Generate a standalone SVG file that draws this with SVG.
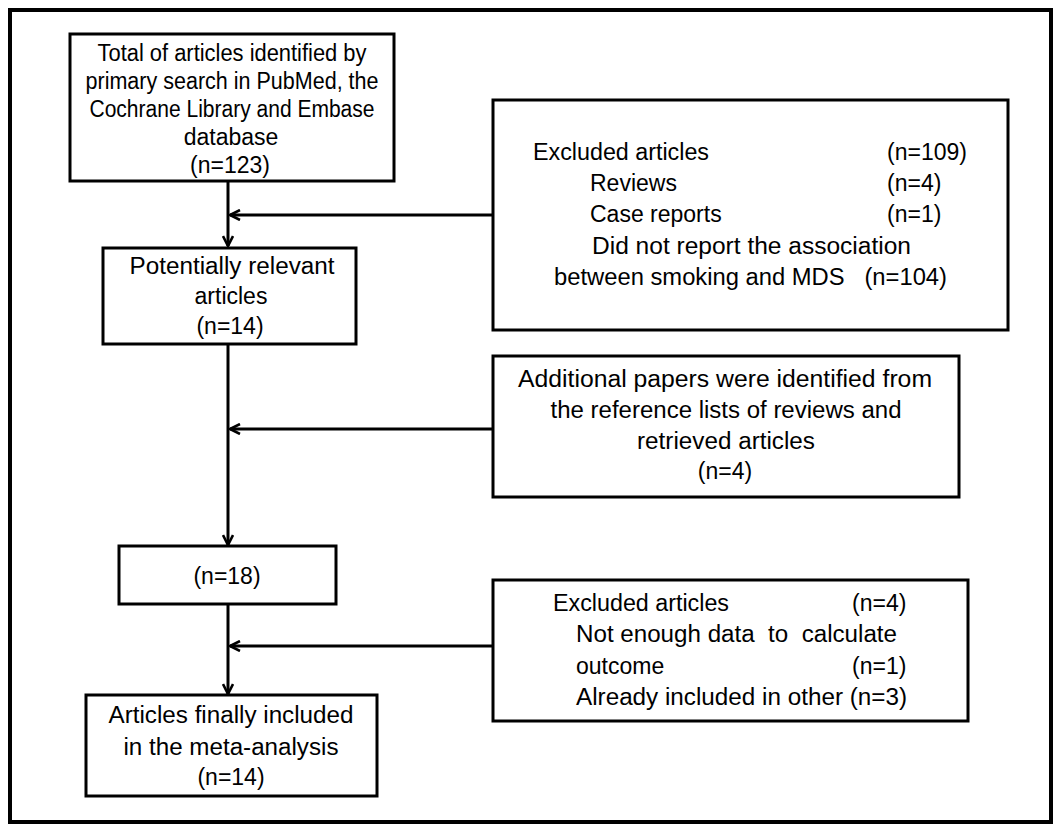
<svg xmlns="http://www.w3.org/2000/svg" width="1055" height="824" viewBox="0 0 1055 824">
<style>
.box{fill:#fff;stroke:#000;stroke-width:3}
.t{font-family:"Liberation Sans",Arial,sans-serif;font-size:23px;fill:#000}
.c{text-anchor:middle}
.ln{stroke:#000;stroke-width:3;fill:none}
</style>
<defs>
<marker id="ah" viewBox="0 0 12 12" refX="11" refY="6" markerWidth="12" markerHeight="12" markerUnits="userSpaceOnUse" orient="auto">
<path d="M1,1 L11,6 L1,11" fill="none" stroke="#000" stroke-width="2.6"/>
</marker>
</defs>
<rect x="10" y="10" width="1041" height="812" fill="#fff" stroke="#000" stroke-width="4"/>
<g id="connectors">
<line class="ln" x1="228" y1="182" x2="228" y2="246" marker-end="url(#ah)"/>
<line class="ln" x1="493" y1="215" x2="230" y2="215" marker-end="url(#ah)"/>
<line class="ln" x1="228" y1="344" x2="228" y2="545" marker-end="url(#ah)"/>
<line class="ln" x1="493" y1="429" x2="230" y2="429" marker-end="url(#ah)"/>
<line class="ln" x1="228" y1="605" x2="228" y2="694" marker-end="url(#ah)"/>
<line class="ln" x1="493" y1="646" x2="230" y2="646" marker-end="url(#ah)"/>
</g>
<g id="n1">
<rect class="box" x="70" y="34" width="324" height="147"/>
<text class="t c" x="232" y="61" textLength="269" lengthAdjust="spacingAndGlyphs">Total of articles identified by</text>
<text class="t c" x="232" y="89" textLength="293" lengthAdjust="spacingAndGlyphs">primary search in PubMed, the</text>
<text class="t c" x="232" y="117" textLength="285" lengthAdjust="spacingAndGlyphs">Cochrane Library  and Embase</text>
<text class="t c" x="231" y="145">database</text>
<text class="t c" x="230" y="173">(n=123)</text>
</g>
<g id="n2">
<rect class="box" x="493" y="100" width="515" height="230"/>
<text class="t" x="533" y="160" textLength="176" lengthAdjust="spacingAndGlyphs">Excluded articles</text>
<text class="t" x="887" y="160">(n=109)</text>
<text class="t" x="590" y="191">Reviews</text>
<text class="t" x="887" y="191">(n=4)</text>
<text class="t" x="590" y="222">Case reports</text>
<text class="t" x="887" y="222">(n=1)</text>
<text class="t" x="592" y="254" textLength="319" lengthAdjust="spacingAndGlyphs">Did not report the association</text>
<text class="t" x="554" y="285" textLength="393" lengthAdjust="spacingAndGlyphs" xml:space="preserve">between smoking and MDS   (n=104)</text>
</g>
<g id="n3">
<rect class="box" x="103" y="248" width="253" height="96"/>
<text class="t c" x="232" y="274" textLength="205" lengthAdjust="spacingAndGlyphs">Potentially relevant</text>
<text class="t c" x="231" y="304">articles</text>
<text class="t c" x="230" y="334">(n=14)</text>
</g>
<g id="n4">
<rect class="box" x="493" y="356" width="466" height="141"/>
<text class="t c" x="725" y="387" textLength="414" lengthAdjust="spacingAndGlyphs">Additional papers were identified from</text>
<text class="t c" x="726" y="418" textLength="351" lengthAdjust="spacingAndGlyphs">the reference lists of reviews and</text>
<text class="t c" x="726" y="449" textLength="178" lengthAdjust="spacingAndGlyphs">retrieved articles</text>
<text class="t c" x="725" y="479">(n=4)</text>
</g>
<g id="n5">
<rect class="box" x="119" y="546" width="217" height="58"/>
<text class="t c" x="227" y="584">(n=18)</text>
</g>
<g id="n6">
<rect class="box" x="493" y="580" width="475" height="141"/>
<text class="t" x="553" y="611" textLength="176" lengthAdjust="spacingAndGlyphs">Excluded articles</text>
<text class="t" x="852" y="611">(n=4)</text>
<text class="t" x="576" y="642" textLength="321" lengthAdjust="spacingAndGlyphs" xml:space="preserve">Not enough data  to  calculate</text>
<text class="t" x="576" y="674">outcome</text>
<text class="t" x="852" y="674">(n=1)</text>
<text class="t" x="576" y="705" textLength="331" lengthAdjust="spacingAndGlyphs">Already included in other (n=3)</text>
</g>
<g id="n7">
<rect class="box" x="86" y="695" width="291" height="101"/>
<text class="t c" x="231" y="723" textLength="245" lengthAdjust="spacingAndGlyphs">Articles finally included</text>
<text class="t c" x="231" y="755" textLength="215" lengthAdjust="spacingAndGlyphs">in the meta-analysis</text>
<text class="t c" x="231" y="785">(n=14)</text>
</g>
</svg>
